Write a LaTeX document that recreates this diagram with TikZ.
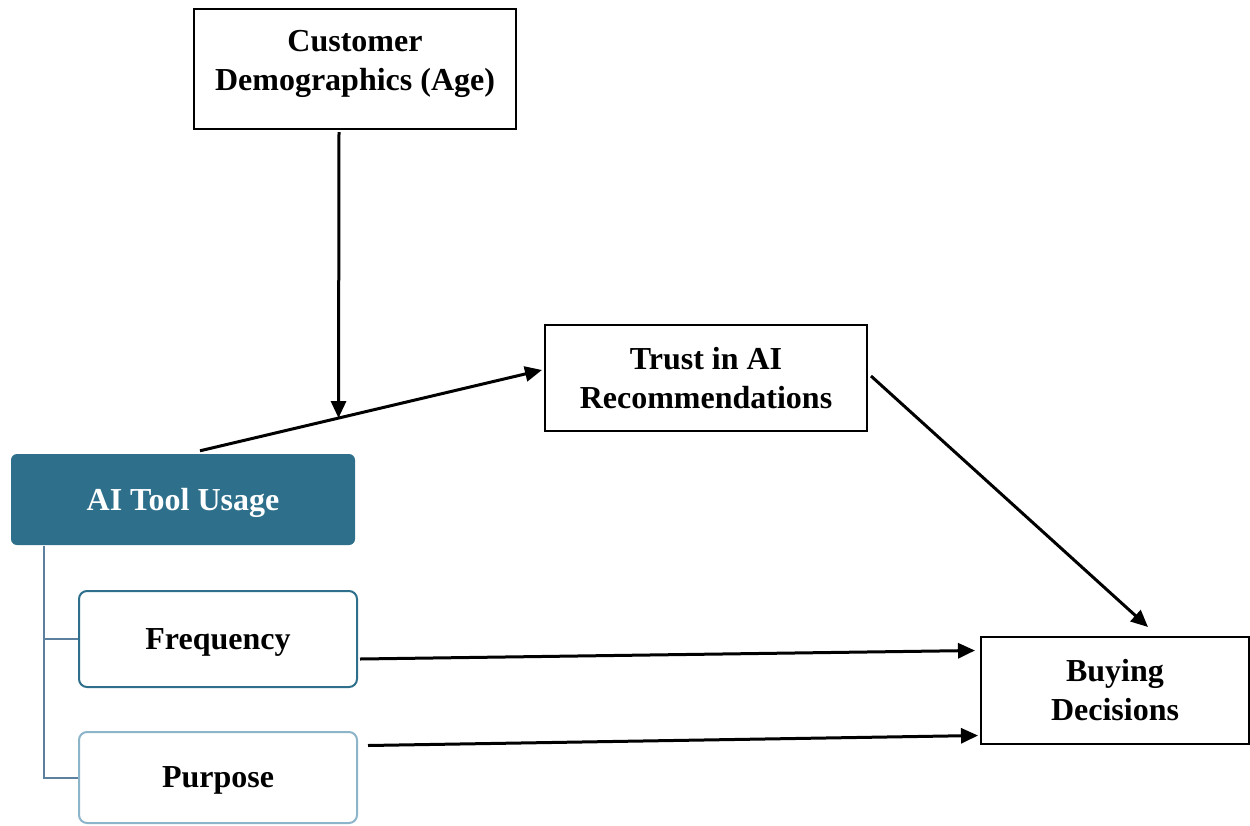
\documentclass[tikz,border=0pt]{standalone}
\usepackage{fontspec}
\setmainfont{Liberation Serif}
\usetikzlibrary{arrows.meta}
\usetikzlibrary{calc}

\definecolor{usageblue}{RGB}{46,112,140}
\definecolor{lightblue}{RGB}{140,181,202}
\definecolor{treeline}{RGB}{92,128,158}

\tikzset{
  plainbox/.style={draw=black,line width=2pt,fill=white,align=center,inner sep=0pt,
    font=\fontsize{32}{39}\selectfont\bfseries},
  subbox/.style={line width=2pt,fill=white,rounded corners=8pt,minimum width=278pt,
    inner sep=0pt,text depth=0pt,font=\fontsize{32}{39}\selectfont\bfseries},
  arr/.style={line width=3pt,-{Triangle[length=17pt,width=15pt]}}
}

\begin{document}
\begin{tikzpicture}[x=1pt,y=-1pt]
\useasboundingbox (0,0) rectangle (1250,825);

\node[plainbox,minimum width=322pt,minimum height=120pt,text depth=17pt] (cust) at (355,69) {Customer\\Demographics (Age)};
\node[plainbox,minimum width=322pt,minimum height=106pt] (trust) at (706,378) {Trust in AI\\Recommendations};
\node[plainbox,minimum width=268pt,minimum height=107pt] (buy) at (1115,690.5) {Buying\\Decisions};

\node[fill=usageblue,rounded corners=6pt,minimum width=344pt,minimum height=91pt,inner sep=0pt,
  text depth=0pt,text=white,font=\fontsize{32}{39}\selectfont\bfseries] (usage) at (183,499.5) {AI Tool Usage};
\node[subbox,draw=usageblue,minimum height=96pt] (freq) at (218,639) {Frequency};
\node[subbox,draw=lightblue,minimum height=91pt] (purp) at (218,777.5) {Purpose};

% tree lines under AI Tool Usage
\draw[treeline,line width=2pt] (44,546) |- (freq.west);
\draw[treeline,line width=2pt] (44,630) |- (purp.west);

% usage -> trust, demographics moderates the path
\draw[arr] ([xshift=17pt,yshift=3pt]usage.north) -- ([xshift=-2pt,yshift=8pt]trust.west)
  coordinate[pos=0.405] (meet);
\draw[arr] ($(cust.south)+(-16,2)$) -- (meet);

\draw[arr] ([xshift=3pt,yshift=2pt]trust.east) -- ([xshift=33pt,yshift=9pt]buy.north);
\draw[arr] ([xshift=2pt,yshift=-20pt]freq.east) -- ([xshift=-5pt,yshift=40pt]buy.west);
\draw[arr] ([xshift=10pt,yshift=32pt]purp.east) -- ([xshift=-2pt,yshift=-45pt]buy.west);
\end{tikzpicture}
\end{document}
